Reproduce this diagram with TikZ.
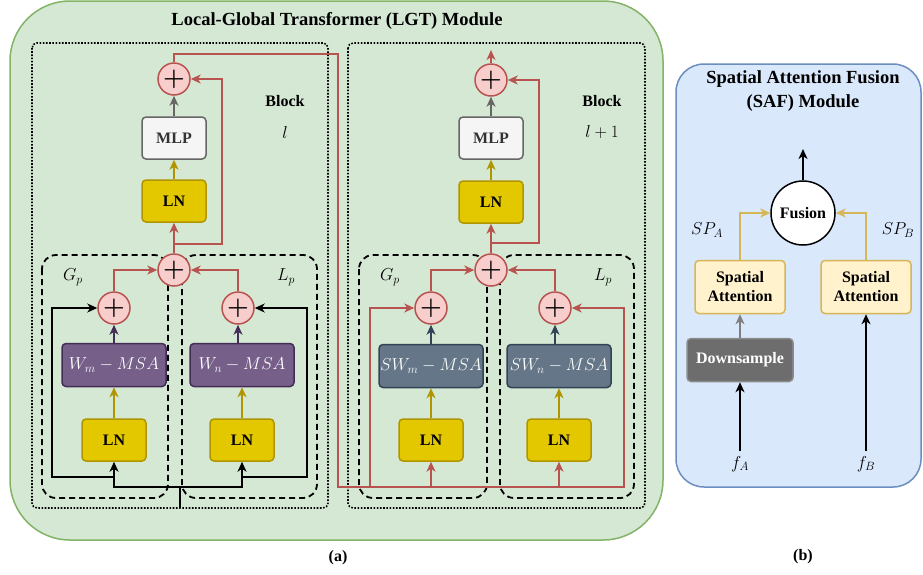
\documentclass[tikz,border=0pt]{standalone}
\usepackage[no-math]{fontspec}
\setmainfont{Liberation Serif}
\usetikzlibrary{arrows.meta,calc}
\definecolor{gfill}{HTML}{D5E8D4}
\definecolor{gdraw}{HTML}{82B366}
\definecolor{bfill}{HTML}{DAE8FC}
\definecolor{bdraw}{HTML}{6C8EBF}
\definecolor{pfill}{HTML}{F8CECC}
\definecolor{pdraw}{HTML}{B85450}
\definecolor{lnfill}{HTML}{E3C800}
\definecolor{lndraw}{HTML}{B09500}
\definecolor{mlpfill}{HTML}{F5F5F5}
\definecolor{mlpdraw}{HTML}{666666}
\definecolor{mlptext}{HTML}{333333}
\definecolor{wfill}{HTML}{76608A}
\definecolor{wdraw}{HTML}{432D57}
\definecolor{swfill}{HTML}{647687}
\definecolor{swdraw}{HTML}{314354}
\definecolor{safill}{HTML}{FFF2CC}
\definecolor{sadraw}{HTML}{D6B656}
\definecolor{dsfill}{HTML}{6D6D6D}
\definecolor{dsdraw}{HTML}{8C8C8C}
\definecolor{dsarrow}{HTML}{7F7F7F}
\begin{document}
\begin{tikzpicture}[x=1pt,y=-1pt,
  lbl/.style={font=\fontsize{16}{18}\selectfont\bfseries},
  mth/.style={font=\fontsize{18}{20}\selectfont},
  rbox/.style={rounded corners=4pt,line width=1.5pt,inner sep=0pt,align=center},
  lnbox/.style={rbox,fill=lnfill,draw=lndraw,minimum width=64pt,minimum height=42pt,lbl},
  mlpbox/.style={rbox,fill=mlpfill,draw=mlpdraw,text=mlptext,minimum width=64pt,minimum height=42pt,lbl},
  wbox/.style={rbox,fill=wfill,draw=wdraw,text=white,minimum width=104pt,minimum height=43pt,mth},
  swbox/.style={rbox,fill=swfill,draw=swdraw,text=white,minimum width=104pt,minimum height=43pt,font=\fontsize{17.5}{20}\selectfont},
  sabox/.style={rbox,fill=safill,draw=sadraw,minimum width=90pt,minimum height=53pt,font=\fontsize{16}{19}\selectfont\bfseries},
  dsbox/.style={rbox,fill=dsfill,draw=dsdraw,text=white,minimum width=106pt,minimum height=43pt,lbl},
  plusnode/.style={circle,fill=pfill,draw=pdraw,line width=1.5pt,minimum size=32pt,inner sep=0pt,font=\fontsize{28}{28}\selectfont\boldmath},
  arr/.style={-{Stealth[length=10pt,width=9pt,inset=3pt]},line width=1.8pt},
  wire/.style={line width=1.8pt},
  dotbox/.style={draw=black,line width=1.6pt,dash pattern=on 1.6pt off 1.6pt,rounded corners=5pt},
  dashbox/.style={draw=black,line width=1.8pt,dash pattern=on 6pt off 4pt,rounded corners=14pt}
]
\useasboundingbox (0,0) rectangle (923,574);
% containers
\draw[fill=gfill,draw=gdraw,line width=1.5pt,rounded corners=60pt] (10,1) rectangle (663,540);
\draw[fill=bfill,draw=bdraw,line width=1.5pt,rounded corners=28pt] (676,64) rectangle (921,487);
\node[font=\fontsize{18.5}{20}\selectfont\bfseries] (ttl) at (337,21) {Local-Global Transformer (LGT) Module};
\node[font=\fontsize{18.5}{24}\selectfont\bfseries,align=center] (saft) at (803,91) {Spatial Attention Fusion\\(SAF) Module};
% block frames
\draw[dotbox] (32,43) rectangle (328,508);
\draw[dotbox] (348,43) rectangle (645,508);
\draw[dashbox] (42,255) rectangle (168,498);
\draw[dashbox] (182,255) rectangle (317,498);
\draw[dashbox] (359,255) rectangle (487,498);
\draw[dashbox] (500,255) rectangle (634,498);
% labels
\node[mth] (gp1) at (73,277) {$G_p$};
\node[mth] (lp1) at (286,277) {$L_p$};
\node[mth] (gp2) at (390,277) {$G_p$};
\node[mth] (lp2) at (603,277) {$L_p$};
\node[lbl] (bk1) at (285,101) {Block};
\node[font=\fontsize{17}{20}\selectfont] (bn1) at (285,132) {$l$};
\node[lbl] (bk2) at (602,101) {Block};
\node[font=\fontsize{17}{20}\selectfont] (bn2) at (602,132) {$l+1$};
% block l nodes
\node[plusnode] (tp1) at (174,79) {$+$};
\node[mlpbox] (mlp1) at (174,138) {MLP};
\node[lnbox] (ln1) at (174,201) {LN};
\node[plusnode] (mp1) at (174,270) {$+$};
\node[plusnode] (lsp1) at (114,308) {$+$};
\node[plusnode] (rsp1) at (238,308) {$+$};
\node[wbox] (w1) at (114,365) {$W_m-MSA$};
\node[wbox] (w2) at (242,365) {$W_n-MSA$};
\node[lnbox] (lna1) at (114,440) {LN};
\node[lnbox] (lnb1) at (242,440) {LN};
% block l+1 nodes
\node[plusnode] (tp2) at (491,80) {$+$};
\node[mlpbox] (mlp2) at (491,138) {MLP};
\node[lnbox] (ln2) at (491,202) {LN};
\node[plusnode] (mp2) at (491,270) {$+$};
\node[plusnode] (lsp2) at (431,308) {$+$};
\node[plusnode] (rsp2) at (555,308) {$+$};
\node[swbox] (sw1) at (431,366) {$SW_m-MSA$};
\node[swbox] (sw2) at (559,366) {$SW_n-MSA$};
\node[lnbox] (lna2) at (431,440) {LN};
\node[lnbox] (lnb2) at (559,440) {LN};
% coordinates
\coordinate (sk1) at (222,244);
\coordinate (sk2) at (539,243);
\coordinate (out2) at (491,50);
\coordinate (in1) at (180,508);
\coordinate (j1) at (180,487);
\coordinate (lo1) at (52,477);
\coordinate (ro1) at (307,477);
\coordinate (t1) at (338,54);
\coordinate (t2) at (338,487);
\coordinate (t3) at (624,487);
\coordinate (b1) at (370,487);
% block l connectors
\draw[arr,lndraw] (ln1) -- (mlp1);
\draw[arr,mlpdraw] (mlp1) -- (tp1);
\draw[arr,pdraw] (mp1) -- (ln1);
\draw[arr,pdraw] (sk1 -| mp1) -- (sk1) |- (tp1.east);
\draw[arr,pdraw] (lsp1.north) |- (mp1.west);
\draw[arr,pdraw] (rsp1.north) |- (mp1.east);
\draw[arr,wdraw] (w1) -- (lsp1);
\draw[arr,wdraw] (w2.north -| rsp1) -- (rsp1);
\draw[arr,lndraw] (lna1) -- (w1);
\draw[arr,lndraw] (lnb1) -- (w2);
\draw[wire] (in1) -- (j1);
\draw[arr] (j1) -| (lna1.south);
\draw[arr] (j1) -| (lnb1.south);
\draw[arr] (lna1.south |- lo1) -- (lo1) |- (lsp1.west);
\draw[arr] (lnb1.south |- ro1) -- (ro1) |- (rsp1.east);
% link between blocks
\draw[arr,pdraw] (tp1.north) |- (t1) -- (t2) -- (t3) |- (rsp2.east);
\draw[arr,pdraw] (b1) |- (lsp2.west);
\draw[arr,pdraw] (lna2.south |- t2) -- (lna2.south);
\draw[arr,pdraw] (lnb2.south |- t2) -- (lnb2.south);
% block l+1 connectors
\draw[arr,lndraw] (ln2) -- (mlp2);
\draw[arr,mlpdraw] (mlp2) -- (tp2);
\draw[arr,pdraw] (mp2) -- (ln2);
\draw[arr,pdraw] (sk2 -| mp2) -- (sk2) |- (tp2.east);
\draw[arr,pdraw] (tp2) -- (out2);
\draw[arr,pdraw] (lsp2.north) |- (mp2.west);
\draw[arr,pdraw] (rsp2.north) |- (mp2.east);
\draw[arr,swdraw] (sw1) -- (lsp2);
\draw[arr,swdraw] (sw2.north -| rsp2) -- (rsp2);
\draw[arr,lndraw] (lna2) -- (sw1);
\draw[arr,lndraw] (lnb2) -- (sw2);
% SAF module
\node[circle,fill=white,draw=black,line width=1.5pt,minimum size=64pt,inner sep=0pt,lbl] (fus) at (803,213) {Fusion};
\node[sabox] (sal) at (740,287) {Spatial\\Attention};
\node[sabox] (sar) at (866,287) {Spatial\\Attention};
\node[dsbox] (ds) at (740,360) {Downsample};
\node[mth,inner sep=5pt] (fa) at (740,464) {$f_A$};
\node[mth,inner sep=5pt] (fb) at (866,464) {$f_B$};
\node[mth] (spa) at (707,230) {$SP_A$};
\node[mth] (spb) at (898,230) {$SP_B$};
\coordinate (fo) at (803,149);
\draw[arr] (fus) -- (fo);
\draw[arr,sadraw] (sal.north) |- (fus.west);
\draw[arr,sadraw] (sar.north) |- (fus.east);
\draw[arr,dsarrow] (ds) -- (sal);
\draw[arr] (fa) -- (ds);
\draw[arr] (fb) -- (sar);
% captions
\node[lbl] (capa) at (338,558) {(a)};
\node[lbl] (capb) at (803,557) {(b)};
\end{tikzpicture}
\end{document}
